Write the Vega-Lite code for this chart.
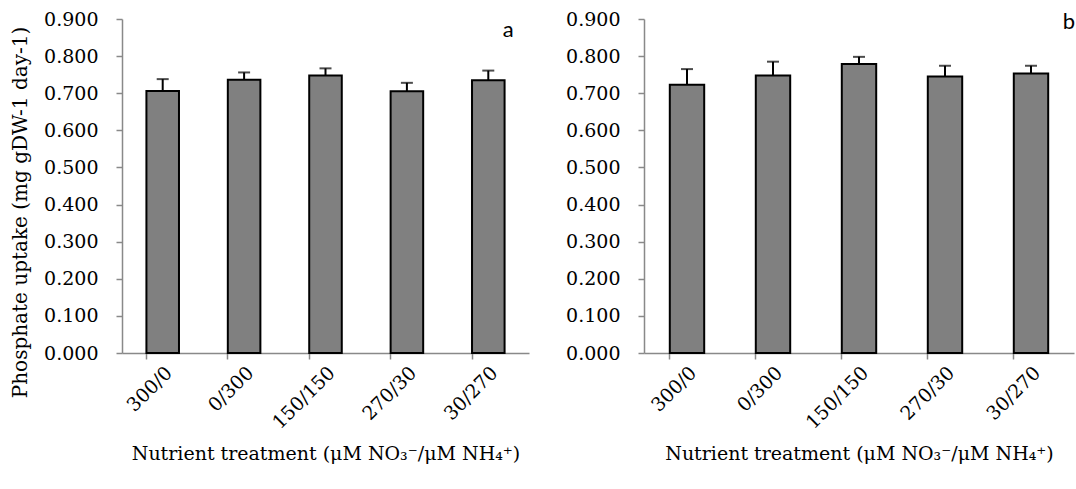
{
  "$schema": "https://vega.github.io/schema/vega-lite/v6.json",
  "background": "white",
  "padding": {"left": 10, "top": 10, "right": 0, "bottom": 5},
  "config": {
    "view": {"stroke": null},
    "font": "DejaVu Serif",
    "axis": {
      "labelFont": "DejaVu Serif",
      "titleFont": "DejaVu Serif",
      "labelFontSize": 19,
      "titleFontSize": 19,
      "titleFontWeight": "normal",
      "labelColor": "black",
      "titleColor": "black",
      "domainColor": "#898989",
      "tickColor": "#898989",
      "domainWidth": 1.5,
      "tickWidth": 1.5,
      "tickSize": 6,
      "grid": false
    },
    "concat": {"spacing": 36}
  },
  "datasets": {
    "panelA": [
      {"treatment": "300/0", "uptake": 0.706, "upper": 0.738},
      {"treatment": "0/300", "uptake": 0.736, "upper": 0.756},
      {"treatment": "150/150", "uptake": 0.748, "upper": 0.767},
      {"treatment": "270/30", "uptake": 0.705, "upper": 0.728},
      {"treatment": "30/270", "uptake": 0.735, "upper": 0.761}
    ],
    "panelB": [
      {"treatment": "300/0", "uptake": 0.723, "upper": 0.765},
      {"treatment": "0/300", "uptake": 0.748, "upper": 0.785},
      {"treatment": "150/150", "uptake": 0.779, "upper": 0.798},
      {"treatment": "270/30", "uptake": 0.745, "upper": 0.774},
      {"treatment": "30/270", "uptake": 0.753, "upper": 0.774}
    ],
    "labelA": [{"treatment": "30/270", "uptake": 0.852, "label": "a"}],
    "labelB": [{"treatment": "30/270", "uptake": 0.873, "label": "b"}]
  },
  "hconcat": [
    {
      "width": 407,
      "height": 334,
      "encoding": {
        "x": {
          "field": "treatment", "type": "nominal", "sort": null,
          "scale": {"paddingInner": 0.6, "paddingOuter": 0.3},
          "axis": {"title": "Nutrient treatment (μM NO₃⁻/μM NH₄⁺)", "labelAngle": -45, "bandPosition": 0, "labelPadding": 4, "titlePadding": 12}
        },
        "y": {
          "field": "uptake", "type": "quantitative",
          "scale": {"domain": [0, 0.9], "nice": false},
          "axis": {"title": "Phosphate uptake (mg gDW-1 day-1)", "titleFontSize": 20, "values": [0, 0.1, 0.2, 0.3, 0.4, 0.5, 0.6, 0.7, 0.8, 0.9], "tickCount": 10, "labelOverlap": false, "format": ".3f", "labelPadding": 18, "titlePadding": 13, "titleY": 193}
        }
      },
      "layer": [
        {
          "data": {"name": "panelA"},
          "mark": {"type": "bar", "fill": "#808080", "stroke": "black", "strokeWidth": 2}
        },
        {
          "data": {"name": "panelA"},
          "mark": {"type": "rule", "strokeWidth": 2, "color": "black"},
          "encoding": {"y2": {"field": "upper"}}
        },
        {
          "data": {"name": "panelA"},
          "mark": {"type": "tick", "orient": "horizontal", "size": 12, "thickness": 2, "color": "black"},
          "encoding": {"y": {"field": "upper", "type": "quantitative"}}
        },
        {
          "data": {"name": "labelA"},
          "mark": {"type": "text", "font": "Lato", "fontSize": 22, "dx": 20, "baseline": "alphabetic", "color": "black"},
          "encoding": {"text": {"field": "label"}}
        }
      ]
    },
    {
      "width": 430,
      "height": 334,
      "encoding": {
        "x": {
          "field": "treatment", "type": "nominal", "sort": null,
          "scale": {"paddingInner": 0.6, "paddingOuter": 0.3},
          "axis": {"title": "Nutrient treatment (μM NO₃⁻/μM NH₄⁺)", "labelAngle": -45, "bandPosition": 0, "labelPadding": 4, "titlePadding": 12}
        },
        "y": {
          "field": "uptake", "type": "quantitative",
          "scale": {"domain": [0, 0.9], "nice": false},
          "axis": {"title": null, "values": [0, 0.1, 0.2, 0.3, 0.4, 0.5, 0.6, 0.7, 0.8, 0.9], "tickCount": 10, "labelOverlap": false, "format": ".3f", "labelPadding": 18}
        }
      },
      "layer": [
        {
          "data": {"name": "panelB"},
          "mark": {"type": "bar", "fill": "#808080", "stroke": "black", "strokeWidth": 2}
        },
        {
          "data": {"name": "panelB"},
          "mark": {"type": "rule", "strokeWidth": 2, "color": "black"},
          "encoding": {"y2": {"field": "upper"}}
        },
        {
          "data": {"name": "panelB"},
          "mark": {"type": "tick", "orient": "horizontal", "size": 12, "thickness": 2, "color": "black"},
          "encoding": {"y": {"field": "upper", "type": "quantitative"}}
        },
        {
          "data": {"name": "labelB"},
          "mark": {"type": "text", "font": "Lato", "fontSize": 22, "dx": 38, "baseline": "alphabetic", "color": "black"},
          "encoding": {"text": {"field": "label"}}
        }
      ]
    }
  ]
}
